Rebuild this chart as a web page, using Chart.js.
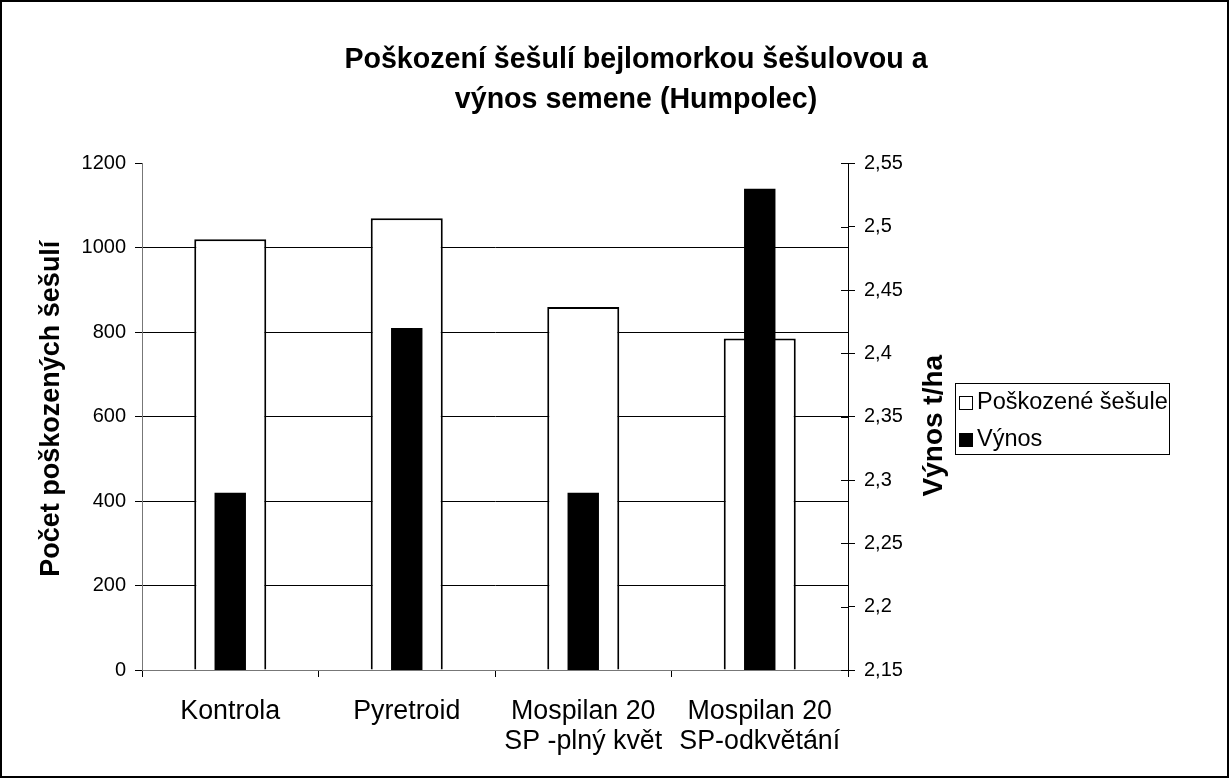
<!DOCTYPE html>
<html>
<head>
<meta charset="utf-8">
<script src="https://cdn.jsdelivr.net/npm/chart.js@4"></script>
<style>
  body { margin: 0; background: #fff; }
  #wrap { position: relative; width: 1229px; height: 778px; }
  #frame { position: absolute; left: 0; top: 0; width: 1229px; height: 778px; box-sizing: border-box; border: 2px solid #000; pointer-events: none; }
  #legend { position: absolute; left: 955px; top: 383px; width: 215px; height: 72px; box-sizing: border-box; border: 1px solid #000; font-family: "Liberation Sans", Arial, sans-serif; font-size: 23.5px; color: #000; }
  .row { position: absolute; left: 3px; height: 30px; line-height: 30px; white-space: nowrap; }
  .sw { display: inline-block; width: 14px; height: 14px; box-sizing: border-box; border: 1px solid #000; margin-right: 4px; vertical-align: -1px; }
</style>
</head>
<body>
<div id="wrap">
  <canvas id="myChart" width="1229" height="778"></canvas>
  <div id="legend">
    <div class="row" style="top:2px"><span class="sw" style="background:#fff"></span>Poškozené šešule</div>
    <div class="row" style="top:39px"><span class="sw" style="background:#000"></span>Výnos</div>
  </div>
  <div id="frame"></div>
</div>
<script>
const categories = [
  "Kontrola",
  "Pyretroid",
  ["Mospilan 20", "SP -plný květ"],
  ["Mospilan 20", "SP-odkvětání"],
];
const poskozeneSesule = [1020, 1070, 860, 785];
const vynos = [2.29, 2.42, 2.29, 2.53];

const titleLines = ["Poškození šešulí bejlomorkou šešulovou a", "výnos semene (Humpolec)"];
const leftAxisTitle = "Počet poškozených šešulí";
const rightAxisTitle = "Výnos t/ha";

const FONT = '"Liberation Sans", Arial, sans-serif';
Chart.defaults.font.family = FONT;
Chart.defaults.color = "#000";

// carky na prave ose jdou i dovnitr grafu + popisky os otocene zdola nahoru (jako v Excelu)
const axisExtras = {
  id: "axisExtras",
  afterDraw(chart) {
    const right = chart.scales.y1;
    const left = chart.scales.y;
    const ctx = chart.ctx;
    ctx.save();
    ctx.strokeStyle = "#000";
    ctx.lineWidth = 1;
    right.ticks.forEach((t) => {
      const y = Math.round(right.getPixelForValue(t.value)) + 0.5;
      ctx.beginPath();
      ctx.moveTo(right.left - 7, y);
      ctx.lineTo(right.left, y);
      ctx.stroke();
    });

    ctx.fillStyle = "#000";
    ctx.textAlign = "center";
    ctx.textBaseline = "middle";

    ctx.save();
    ctx.translate(52, (left.top + left.bottom) / 2 - 8);
    ctx.rotate(-Math.PI / 2);
    ctx.font = "bold 27px " + FONT;
    ctx.fillText(leftAxisTitle, 0, 0);
    ctx.restore();

    ctx.save();
    ctx.translate(934, (right.top + right.bottom) / 2 + 9);
    ctx.rotate(-Math.PI / 2);
    ctx.font = "bold 28px " + FONT;
    ctx.fillText(rightAxisTitle, 0, 0);
    ctx.restore();

    ctx.restore();
  },
};

const data = {
  labels: categories,
  datasets: [
    {
      label: "Poškozené šešule",
      data: poskozeneSesule,
      yAxisID: "y",
      backgroundColor: "#fff",
      borderColor: "#000",
      borderWidth: 2,
      barPercentage: 0.408,
      categoryPercentage: 1,
      grouped: false,
      order: 1,
    },
    {
      label: "Výnos",
      data: vynos,
      yAxisID: "y1",
      backgroundColor: "#000",
      borderWidth: 0,
      barPercentage: 0.178,
      categoryPercentage: 1,
      grouped: false,
      order: 0,
    },
  ],
};

const config = {
  type: "bar",
  data: data,
  plugins: [axisExtras],
  options: {
    responsive: false,
    animation: false,
    devicePixelRatio: 1,
    layout: { padding: { left: 43, right: 0, top: 0, bottom: 0 } },
    plugins: {
      legend: { display: false },
      tooltip: { enabled: false },
      title: {
        display: true,
        text: titleLines,
        color: "#000",
        font: { size: 28.6, weight: "bold", lineHeight: 1.37 },
        padding: { top: 41, bottom: 44 },
      },
    },
    scales: {
      x: {
        offset: true,
        afterFit: (s) => { s.height = 108; },
        grid: { offset: true, drawOnChartArea: false, tickLength: 7, tickColor: "#000" },
        border: { color: "#777", width: 1 },
        ticks: { font: { size: 26.8, lineHeight: 1.12 }, padding: 20, maxRotation: 0, autoSkip: false },
      },
      y: {
        position: "left",
        min: 0,
        max: 1200,
        afterFit: (s) => { s.width = 99; },
        ticks: { stepSize: 200, font: { size: 20 }, padding: 9, callback: (v) => String(v) },
        grid: {
          color: (c) => (c.tick && c.tick.value === 1200 ? "rgba(0,0,0,0)" : c.tick && c.tick.value === 0 ? "#777" : "#000"),
          tickColor: "#000",
          tickLength: 7,
        },
        border: { color: "#777", width: 1 },
      },
      y1: {
        position: "right",
        min: 2.15,
        max: 2.55,
        afterFit: (s) => { s.width = 381; },
        ticks: {
          stepSize: 0.05,
          font: { size: 20 },
          padding: 9,
          callback: (v) => parseFloat(Number(v).toFixed(2)).toString().replace(".", ","),
        },
        grid: { drawOnChartArea: false, tickColor: "#000", tickLength: 7 },
        border: { color: "#000", width: 1 },
      },
    },
  },
};

new Chart(document.getElementById("myChart"), config);
</script>
</body>
</html>
